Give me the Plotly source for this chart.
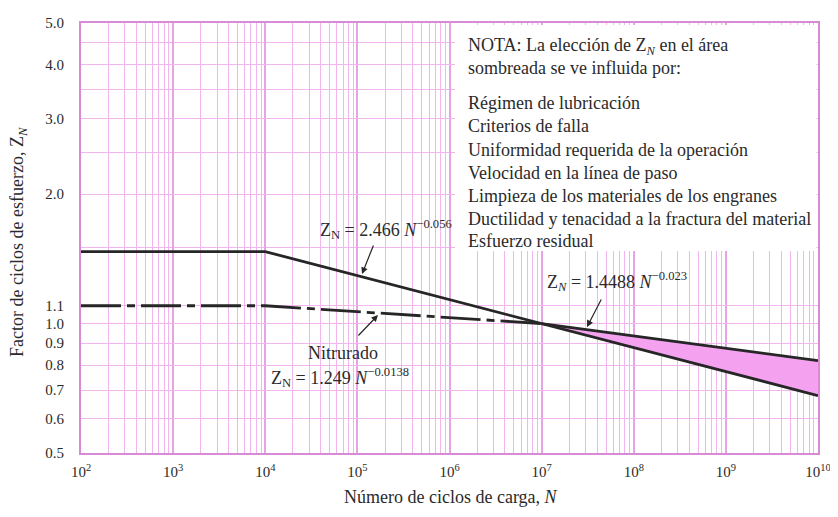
import plotly.graph_objects as go

# ---- data ----
N_standard = [1e2, 1e4, 1e10]
Z_standard = [1.47, 1.47, 0.68]

N_nitrided = [1e2, 1e4, 1e7]
Z_nitrided = [1.1, 1.1, 1.0]

N_shade_top = [1e7, 1e10]
Z_shade_top = [1.0, 0.82]
N_shade_bottom = [1e7, 1e10]
Z_shade_bottom = [1.0, 0.68]

x_tick_vals = [1e2, 1e3, 1e4, 1e5, 1e6, 1e7, 1e8, 1e9, 1e10]
x_tick_text = ["10<sup>%d</sup>" % e for e in range(2, 11)]
y_tick_vals = [0.5, 0.6, 0.7, 0.8, 0.9, 1.0, 1.1, 2.0, 3.0, 4.0, 5.0]
y_tick_text = ["0.5", "0.6", "0.7", "0.8", "0.9", "1.0", "1.1", "2.0", "3.0", "4.0", "5.0"]
y_minor_grid = [1.5, 2.5, 3.5, 4.5]

note_lines = [
    "NOTA: La elección de Z<sub><i>N</i></sub> en el área",
    "sombreada se ve influida por:",
    "Régimen de lubricación",
    "Criterios de falla",
    "Uniformidad requerida de la operación",
    "Velocidad en la línea de paso",
    "Limpieza de los materiales de los engranes",
    "Ductilidad y tenacidad a la fractura del material",
    "Esfuerzo residual",
]
note_y_px = [46, 68, 103, 126, 150, 173, 196, 219, 241]

x_minor = [k * 10 ** d for d in range(2, 10) for k in range(2, 10)]

FONT = "Liberation Serif"
TXT = "#2a2a2a"
GRID = "#f2b6ef"
GRID_MAJOR = "#e9a2e5"
BORDER = "#d98ad5"
LINE = "#262626"

# target plot area on screen (page body adds an 8px offset)
OFF = 8
PLOT_L, PLOT_R, PLOT_T, PLOT_B = 81, 818, 23, 453
W, H = 838, 517
PW, PH = PLOT_R - PLOT_L, PLOT_B - PLOT_T


def px_x(x):
    return (x - PLOT_L) / PW


def px_y(y):
    return (PLOT_B - y) / PH


fig = go.Figure()

# shaded region
fig.add_trace(go.Scatter(
    x=N_shade_top + N_shade_bottom[::-1],
    y=Z_shade_top + Z_shade_bottom[::-1],
    fill="toself", fillcolor="#f4a2ef", mode="none",
    hoverinfo="skip", showlegend=False,
))
fig.add_trace(go.Scatter(
    x=N_shade_top, y=Z_shade_top, mode="lines",
    line=dict(color=LINE, width=2.8), showlegend=False,
))
fig.add_trace(go.Scatter(
    x=N_nitrided, y=Z_nitrided, mode="lines",
    line=dict(color=LINE, width=2.8, dash="40px,6px,8px,6px"), showlegend=False,
))
fig.add_trace(go.Scatter(
    x=N_standard, y=Z_standard, mode="lines",
    line=dict(color=LINE, width=2.8), showlegend=False,
))

annotations = []
for txt, ypx in zip(note_lines, note_y_px):
    annotations.append(dict(
        xref="paper", yref="paper", x=px_x(466), y=px_y(ypx),
        xanchor="left", yanchor="middle", showarrow=False, text=txt,
        font=dict(family=FONT, size=18, color=TXT),
    ))

labels = [
    ("Z<sub>N</sub> = 2.466 <i>N</i><sup>−0.056</sup>", 386, 229),
    ("Z<sub><i>N</i></sub> = 1.4488 <i>N</i><sup>−0.023</sup>", 617, 281),
    ("Nitrurado", 343, 353),
    ("Z<sub>N</sub> = 1.249 <i>N</i><sup>−0.0138</sup>", 340, 377),
]
for txt, xp, yp in labels:
    annotations.append(dict(
        xref="paper", yref="paper", x=px_x(xp), y=px_y(yp),
        xanchor="center", yanchor="middle", showarrow=False, text=txt,
        font=dict(family=FONT, size=18, color=TXT),
    ))

arrows = [((362, 274), (374, 244)), ((587, 327), (602, 298)), ((378, 315), (357, 337))]
for (hx, hy), (tx, ty) in arrows:
    annotations.append(dict(
        xref="paper", yref="paper", x=px_x(hx), y=px_y(hy),
        axref="pixel", ayref="pixel", ax=tx - hx, ay=ty - hy,
        text="", showarrow=True, arrowhead=2, arrowsize=1.1, arrowwidth=1.2,
        arrowcolor=LINE,
    ))

annotations.append(dict(
    xref="paper", yref="paper", x=px_x(451), y=px_y(497), xanchor="center", yanchor="middle",
    showarrow=False, text="Número de ciclos de carga, <i>N</i>",
    font=dict(family=FONT, size=18, color=TXT),
))
annotations.append(dict(
    xref="paper", yref="paper", x=px_x(18), y=px_y(242), xanchor="center", yanchor="middle",
    showarrow=False, textangle=-90, text="Factor de ciclos de esfuerzo, Z<sub><i>N</i></sub>",
    font=dict(family=FONT, size=18, color=TXT),
))

shapes = [
    dict(type="rect", xref="paper", yref="paper", x0=px_x(455), x1=px_x(816.5),
         y0=px_y(251), y1=px_y(25), fillcolor="white", line=dict(width=0), layer="above"),
]

fig.update_layout(
    width=W, height=H,
    margin=dict(l=PLOT_L - OFF, r=W - (PLOT_R - OFF), t=PLOT_T - OFF, b=H - (PLOT_B - OFF),
                autoexpand=False),
    paper_bgcolor="white", plot_bgcolor="white",
    font=dict(family=FONT, size=14, color=TXT),
    showlegend=False,
    annotations=annotations, shapes=shapes,
)
fig.update_xaxes(
    type="log", range=[2, 10], tickvals=x_tick_vals, ticktext=x_tick_text,
    showgrid=True, gridcolor=GRID_MAJOR, gridwidth=2,
    minor=dict(tickvals=x_minor, showgrid=True, gridcolor=GRID, gridwidth=1, ticks=""),
    showline=True, linecolor=BORDER, linewidth=2, mirror=True, automargin=False,
    ticks="", zeroline=False, tickfont=dict(family=FONT, size=15, color=TXT),
    ticklabelstandoff=4,
)
fig.update_yaxes(
    type="log", range=[-0.30103, 0.69897], tickvals=y_tick_vals, ticktext=y_tick_text,
    showgrid=True, gridcolor=GRID, gridwidth=1,
    minor=dict(tickvals=y_minor_grid, showgrid=True, gridcolor=GRID, gridwidth=1, ticks=""),
    showline=True, linecolor=BORDER, linewidth=2, mirror=True, automargin=False,
    ticks="", zeroline=False, tickfont=dict(family=FONT, size=15, color=TXT),
    ticklabelstandoff=12,
)

fig.write_html("out.html")
